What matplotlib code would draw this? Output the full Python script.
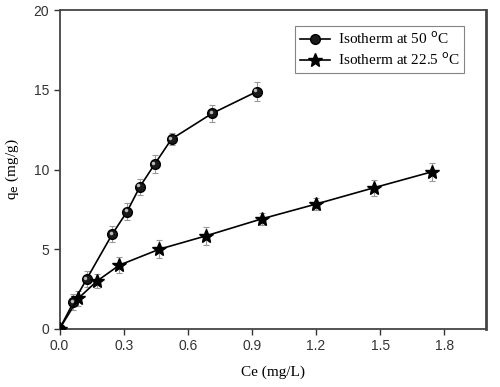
import matplotlib
matplotlib.use("Agg")
import matplotlib.pyplot as plt
from matplotlib.transforms import offset_copy

# isotherm at 50 C
ce_50 = [0.0, 0.065, 0.127, 0.247, 0.316, 0.376, 0.445, 0.524, 0.714, 0.922]
qe_50 = [0.0, 1.67, 3.13, 5.95, 7.36, 8.92, 10.33, 11.91, 13.52, 14.88]
err_50 = [0.0, 0.5, 0.5, 0.5, 0.55, 0.5, 0.55, 0.4, 0.55, 0.6]

# isotherm at 22.5 C
ce_22 = [0.0, 0.088, 0.175, 0.28, 0.467, 0.683, 0.945, 1.202, 1.472, 1.743]
qe_22 = [0.0, 1.92, 3.0, 4.0, 5.0, 5.83, 6.9, 7.84, 8.86, 9.86]
err_22 = [0.0, 0.45, 0.45, 0.5, 0.55, 0.55, 0.35, 0.4, 0.5, 0.55]

serif = "Liberation Serif"
sans = "Liberation Sans"

fig = plt.figure(figsize=(5.0, 3.87), dpi=100)
ax = fig.add_axes([0.119, 0.150, 0.853, 0.824])

ax.errorbar(ce_50, qe_50, yerr=err_50, fmt="none", ecolor="#999999",
            elinewidth=0.8, capsize=2.5, capthick=0.8, zorder=2)
ax.errorbar(ce_22, qe_22, yerr=err_22, fmt="none", ecolor="#999999",
            elinewidth=0.8, capsize=2.5, capthick=0.8, zorder=2)

ax.plot(ce_50, qe_50, color="black", lw=1.2, marker="o", markersize=7,
        markerfacecolor="#1a1a1a", markeredgecolor="black",
        label="Isotherm at 50 $^{\\mathrm{o}}$C", zorder=3)
# small highlight up-left to mimic the shaded spheres
hl = offset_copy(ax.transData, fig=fig, x=-1.0, y=1.0, units="points")
ax.plot(ce_50[1:], qe_50[1:], ls="none", marker="o", markersize=2.5,
        markerfacecolor="#bbbbbb", markeredgecolor="none", zorder=4,
        transform=hl)
ax.plot(ce_22, qe_22, color="black", lw=1.2, marker="*", markersize=10,
        markerfacecolor="black", markeredgecolor="black",
        label="Isotherm at 22.5 $^{\\mathrm{o}}$C", zorder=3)

ax.set_xlim(0, 1.995)
ax.set_ylim(0, 20)
ax.set_xticks([0.0, 0.3, 0.6, 0.9, 1.2, 1.5, 1.8])
ax.set_yticks([0, 5, 10, 15, 20])
ax.set_xticklabels(["0.0", "0.3", "0.6", "0.9", "1.2", "1.5", "1.8"],
                   fontfamily=sans, fontsize=10)
ax.set_yticklabels(["0", "5", "10", "15", "20"], fontfamily=sans, fontsize=10)
ax.tick_params(direction="out", length=4, width=1, colors="#333333")

for s in ax.spines.values():
    s.set_color("#444444")
    s.set_linewidth(1.3)
ax.spines["right"].set_linewidth(2.0)

ax.set_xlabel("Ce (mg/L)", fontfamily=serif, fontsize=11, labelpad=9)
ax.set_ylabel("q$_{\\mathrm{e}}$ (mg/g)", fontfamily=serif, fontsize=11,
              labelpad=9)

leg = ax.legend(loc="upper right", bbox_to_anchor=(0.967, 0.975),
                prop={"family": serif, "size": 11}, frameon=True,
                fancybox=False, edgecolor="#666666", handlelength=2.0,
                borderpad=0.3, labelspacing=0.3, handletextpad=0.5)
leg.get_frame().set_linewidth(0.8)

fig.savefig("out.png", dpi=100)
